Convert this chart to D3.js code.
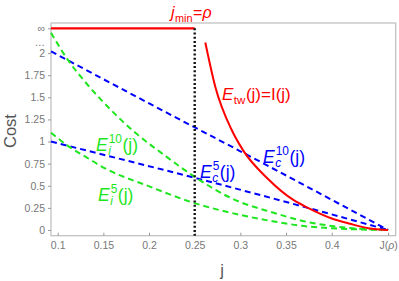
<!DOCTYPE html>
<html>
<head>
<meta charset="utf-8">
<script src="https://cdn.jsdelivr.net/npm/d3@7"></script>
<style>
  body { margin: 0; background: #fff; }
  svg text { font-family: "Liberation Sans", Arial, sans-serif; }
</style>
</head>
<body>
<svg id="chart" width="399" height="281"></svg>
<script>
// values
var jTicks = [0.1, 0.15, 0.2, 0.25, 0.3, 0.35, 0.4];
var jRho = 0.4617;
var costTicks = [0, 0.25, 0.5, 0.75, 1, 1.25, 1.5, 1.75, 2];
var dotsLevel = 2.12;   // the "..." break on the axis
var infLevel = 2.28;    // where "∞" sits
var jMin = 0.25;

// [j, cost]
var eTw = [[0.2616, 2.12], [0.2725, 1.62], [0.2905, 1.13], [0.303, 0.90], [0.33, 0.58],
           [0.358, 0.34], [0.374, 0.25], [0.40, 0.13], [0.42, 0.07], [0.44, 0.02], [0.4617, 0]];
var eInfinite = [[0.0927, infLevel], [jMin, infLevel]];
var eC10 = [[0.0927, 2.02], [0.215, 1.35], [0.30, 0.89], [jRho, 0]];
var eC5 = [[0.0927, 1.0], [0.135, 0.89], [0.25, 0.59], [0.374, 0.25], [jRho, 0]];
var eI10 = [[0.0927, 2.23], [0.1127, 1.90], [0.128, 1.70], [0.158, 1.36], [0.186, 1.09], [0.215, 0.86],
            [0.25, 0.60], [0.292, 0.35], [0.338, 0.19], [0.365, 0.11], [0.40, 0.045], [jRho, 0]];
var eI5 = [[0.0927, 1.10], [0.11, 0.96], [0.135, 0.80], [0.146, 0.73], [0.201, 0.49], [0.248, 0.31],
           [0.30, 0.17], [0.338, 0.094], [0.365, 0.05], [0.40, 0.02], [jRho, 0]];

var red = "#ff0000", blue = "#0000ff", green = "#1ee61e";

var svg = d3.select("#chart");
var plotLeft = 51, plotRight = 395.7, plotTop = 23, plotBottom = 235.7;

var x = d3.scaleLinear().domain([0.0927, 0.470]).range([plotLeft, plotRight]);
var y = d3.scaleLinear().domain([-0.0644, 2.34]).range([plotBottom, plotTop]);

// frame
svg.append("rect")
  .attr("x", plotLeft).attr("y", plotTop)
  .attr("width", plotRight - plotLeft).attr("height", plotBottom - plotTop)
  .attr("fill", "none").attr("stroke", "#bdbdbd").attr("stroke-width", 1.2);

// x axis
var xAxis = svg.append("g")
  .attr("transform", "translate(0," + plotBottom + ")")
  .call(d3.axisBottom(x)
    .tickValues(jTicks.concat([jRho]))
    .tickSize(-3).tickPadding(6)
    .tickFormat(function(d) { return d == jRho ? "" : d3.format("")(d); }));
xAxis.select(".domain").remove();
xAxis.selectAll("line").attr("stroke", "#999");
xAxis.selectAll("text").attr("fill", "#777").style("font-size", "10.5px");
// J(ρ) label
var jr = xAxis.selectAll(".tick").filter(function(d) { return d == jRho; }).select("text");
jr.append("tspan").text("J(");
jr.append("tspan").style("font-style", "italic").text("ρ");
jr.append("tspan").text(")");

// y axis
var yAxis = svg.append("g")
  .attr("transform", "translate(" + plotLeft + ",0)")
  .call(d3.axisLeft(y)
    .tickValues(costTicks.concat([dotsLevel, infLevel]))
    .tickSize(3).tickPadding(3)
    .tickFormat(function(d) {
      if (d == infLevel) return "∞";
      if (d == dotsLevel) return "…";
      return d3.format("")(d);
    }));
yAxis.select(".domain").remove();
yAxis.selectAll("line").attr("stroke", "#999");
yAxis.selectAll("text").attr("fill", "#777").style("font-size", "10.5px");
yAxis.selectAll(".tick").filter(function(d) { return d == dotsLevel; }).select("line").remove();

// axis titles
svg.append("text")
  .attr("transform", "translate(16," + 131 + ") rotate(-90)")
  .attr("text-anchor", "middle")
  .attr("fill", "#555").style("font-size", "16.5px")
  .text("Cost");
svg.append("text")
  .attr("x", 222).attr("y", 276)
  .attr("text-anchor", "middle")
  .attr("fill", "#555").style("font-size", "16.5px")
  .text("j");

// curves
var smooth = d3.line()
  .x(function(d) { return x(d[0]); })
  .y(function(d) { return y(d[1]); })
  .curve(d3.curveMonotoneX);
var straight = d3.line()
  .x(function(d) { return x(d[0]); })
  .y(function(d) { return y(d[1]); });

svg.append("path").datum(eC10).attr("d", smooth)
  .attr("fill", "none").attr("stroke", blue).attr("stroke-width", 2).attr("stroke-dasharray", "6,4");
svg.append("path").datum(eC5).attr("d", smooth)
  .attr("fill", "none").attr("stroke", blue).attr("stroke-width", 2).attr("stroke-dasharray", "6,4");
svg.append("path").datum(eI10).attr("d", smooth)
  .attr("fill", "none").attr("stroke", green).attr("stroke-width", 2).attr("stroke-dasharray", "6,4");
svg.append("path").datum(eI5).attr("d", smooth)
  .attr("fill", "none").attr("stroke", green).attr("stroke-width", 2).attr("stroke-dasharray", "6,4");
svg.append("path").datum(eTw).attr("d", smooth)
  .attr("fill", "none").attr("stroke", red).attr("stroke-width", 2);
svg.append("path").datum(eInfinite).attr("d", straight)
  .attr("fill", "none").attr("stroke", red).attr("stroke-width", 2.2);

// j_min marker
svg.append("line")
  .attr("x1", x(jMin)).attr("x2", x(jMin))
  .attr("y1", y(infLevel)).attr("y2", plotBottom)
  .attr("stroke", "#111").attr("stroke-width", 2.4).attr("stroke-dasharray", "2,2.2");

// labels with sub/superscripts
function mathLabel(px, py, color, size, main, sub, sup, rest, subItalic) {
  var g = svg.append("g").attr("fill", color);
  var t = g.append("text").attr("x", px).attr("y", py)
    .style("font-size", size + "px").style("font-style", "italic").text(main);
  var x2 = px + t.node().getComputedTextLength() + 0.5;
  var w = 0;
  if (sub) {
    var s = g.append("text").attr("x", x2).attr("y", py + size * 0.24)
      .style("font-size", (size * 0.68) + "px")
      .style("font-style", subItalic ? "italic" : "normal").text(sub);
    w = Math.max(w, s.node().getComputedTextLength());
  }
  if (sup) {
    var p = g.append("text").attr("x", x2 + 0.5).attr("y", py - size * 0.46)
      .style("font-size", (size * 0.68) + "px").text(sup);
    w = Math.max(w, p.node().getComputedTextLength() + 0.5);
  }
  var r = g.append("text").attr("x", x2 + w + 0.5).attr("y", py)
    .style("font-size", size + "px");
  rest.forEach(function(part) {
    r.append("tspan").style("font-style", part[1] ? "italic" : "normal").text(part[0]);
  });
}

mathLabel(171, 18, red, 16, "j", "min", null, [["=", false], ["ρ", true]], false);
mathLabel(222, 100, red, 17, "E", "tw", null, [["(j)=I(j)", false]], false);
mathLabel(96, 151, green, 17.5, "E", "i", "10", [["(j)", false]], true);
mathLabel(98, 201, green, 17.5, "E", "i", "5", [["(j)", false]], true);
mathLabel(200, 178, blue, 17.5, "E", "c", "5", [["(j)", false]], true);
mathLabel(263, 163, blue, 17.5, "E", "c", "10", [["(j)", false]], true);
</script>
</body>
</html>
